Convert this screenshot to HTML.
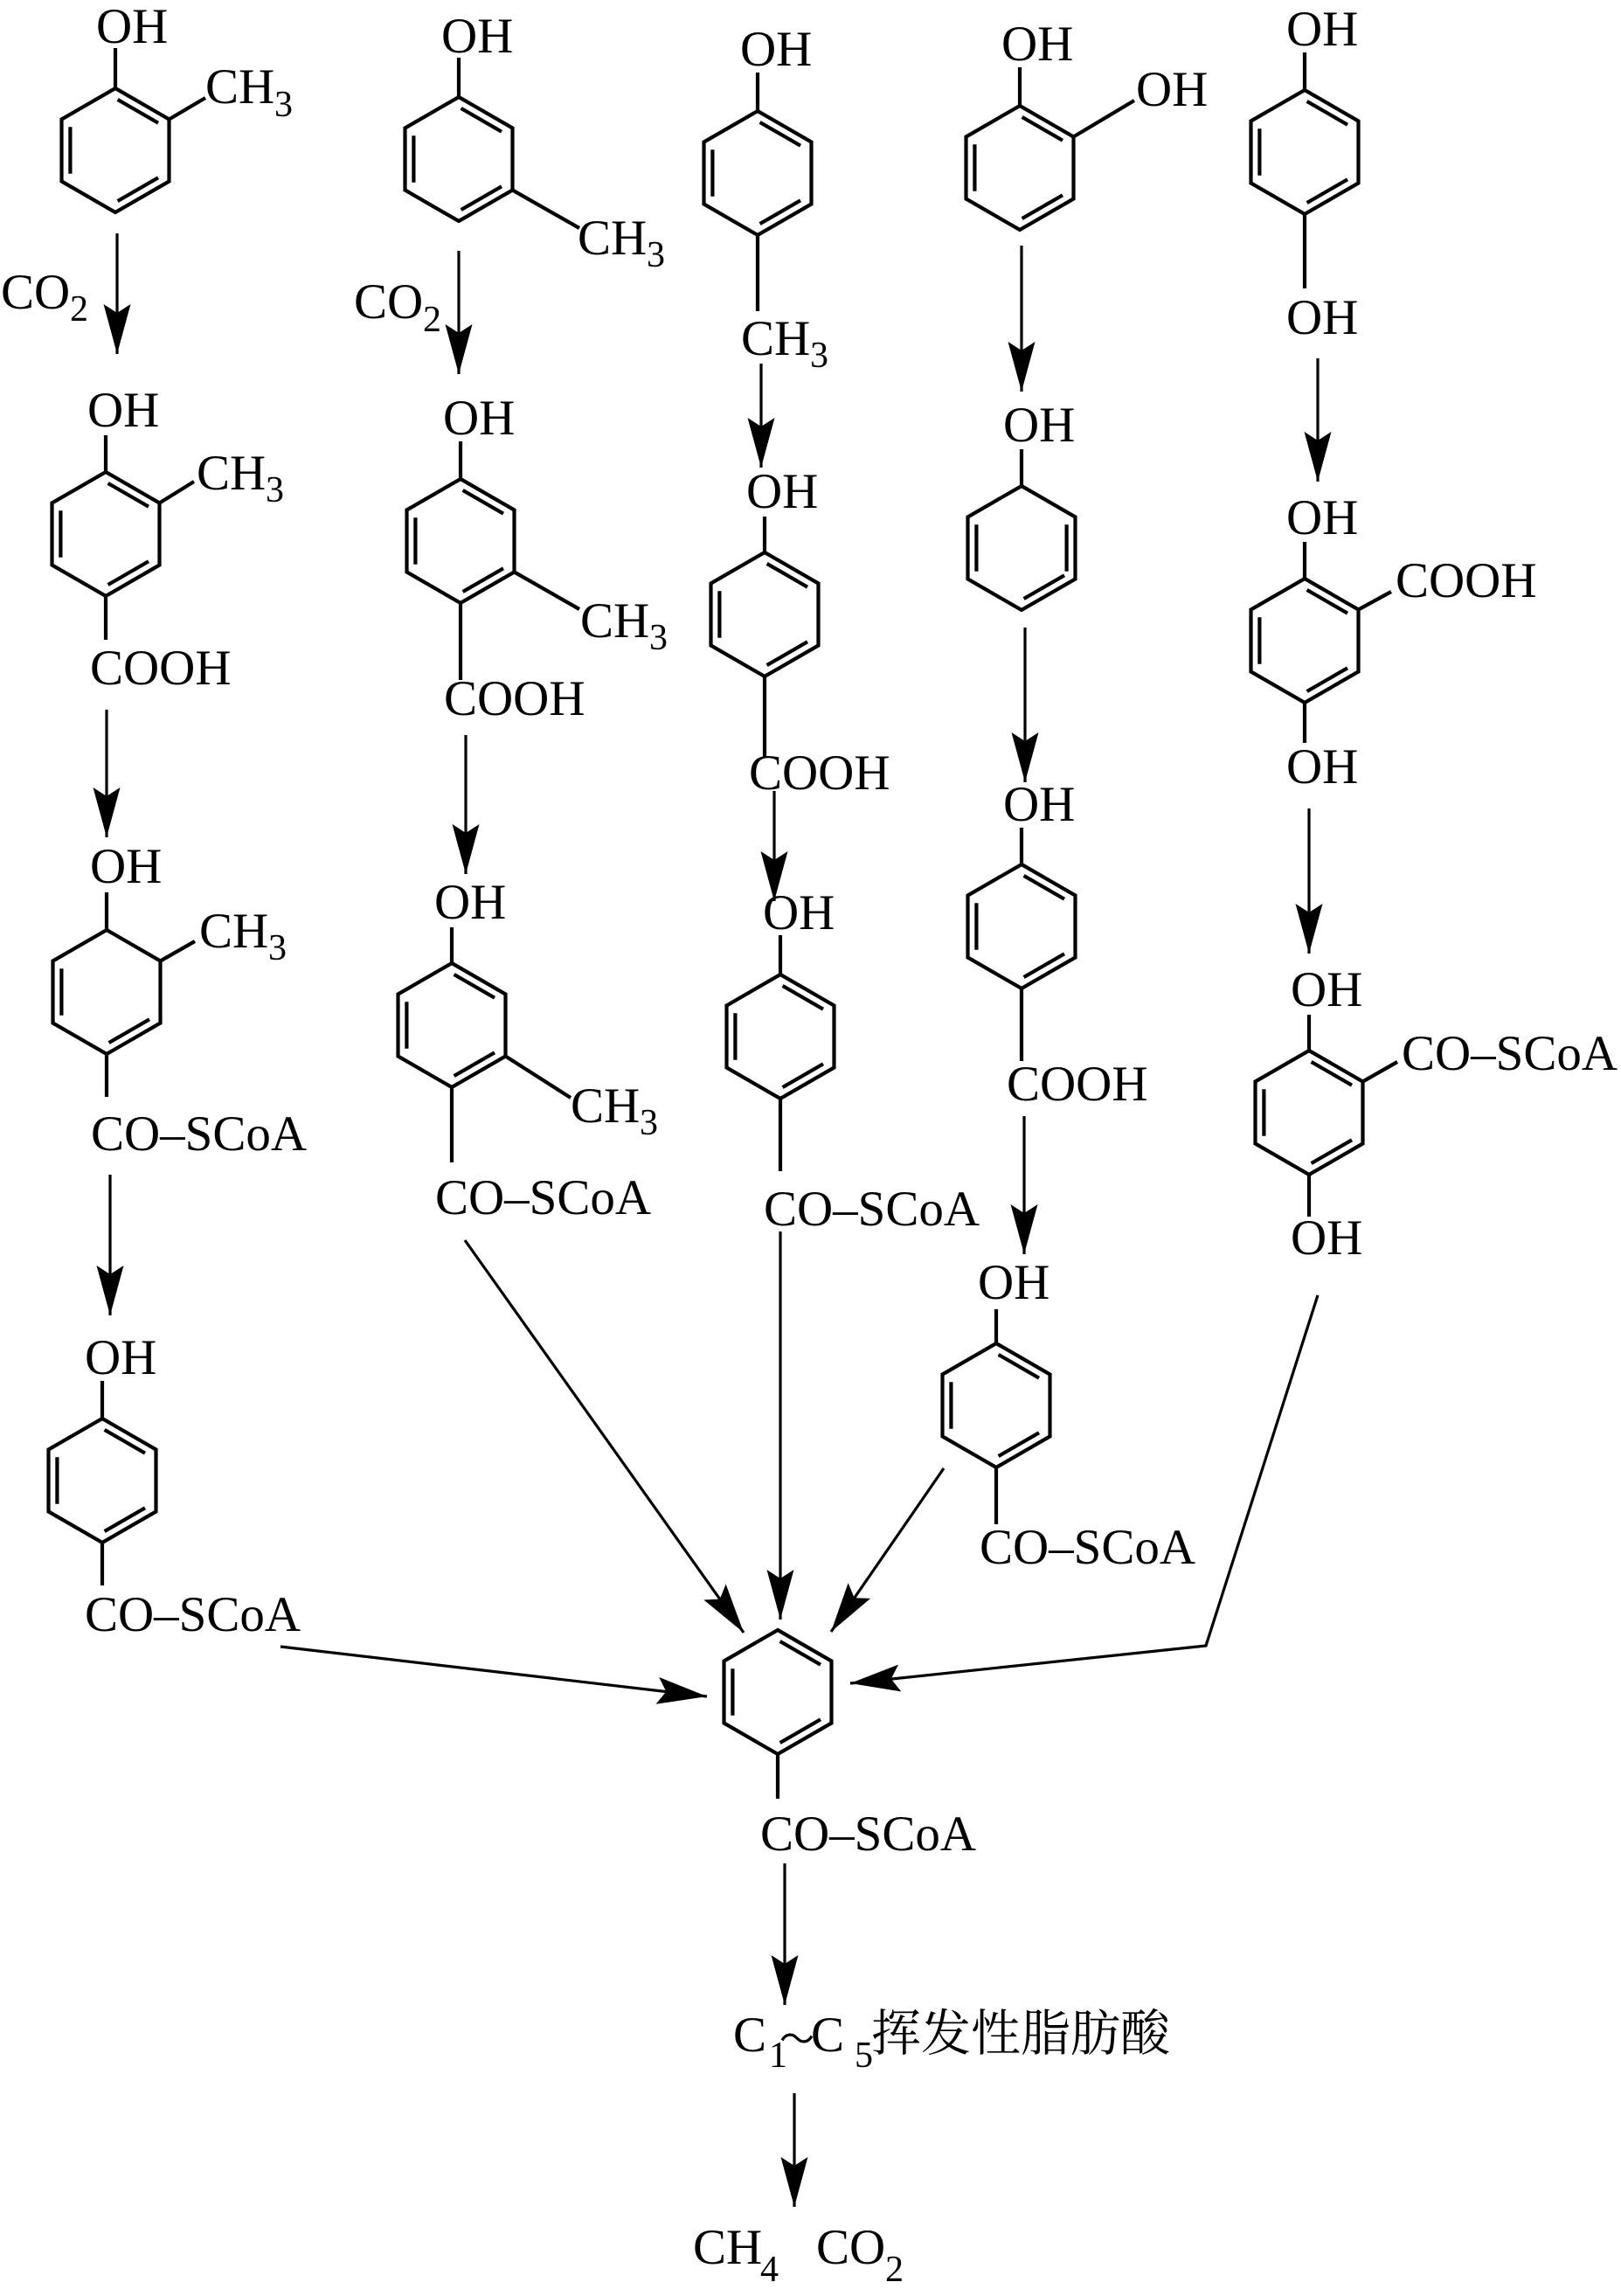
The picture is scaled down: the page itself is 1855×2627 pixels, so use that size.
<!DOCTYPE html>
<html>
<head>
<meta charset="utf-8">
<style>
  html, body { margin:0; padding:0; background:#fff; }
  svg { display:block; }
  text { font-family: "Liberation Serif", "Noto Serif CJK SC", serif; fill:#000; }
  .t { font-size:57px; }
  .s { font-size:42px; }
  .cj { font-family: "Liberation Serif", "Noto Serif CJK SC", serif; font-size:57px; }
  .tl { font-family: "Noto Sans CJK SC", sans-serif; font-size:40px; }
</style>
</head>
<body>
<svg width="1855" height="2627" viewBox="0 0 1855 2627" xmlns="http://www.w3.org/2000/svg">
  <defs>
    <marker id="ah" markerUnits="userSpaceOnUse" markerWidth="80" markerHeight="40" refX="0" refY="0" orient="auto" viewBox="-60 -20 80 40" overflow="visible">
      <path d="M0,0 L-57,-15.5 L-47,0 L-57,15.5 Z" fill="#000"/>
    </marker>
    <g id="hex">
      <path d="M0,-71 L61.49,-35.5 L61.49,35.5 L0,71 L-61.49,35.5 L-61.49,-35.5 Z" fill="none" stroke="#000" stroke-width="4.2" stroke-linejoin="miter"/>
    </g>
    <g id="rA" fill="none" stroke="#000" stroke-width="4.2">
      <use href="#hex"/>
      <path d="M2.6,-58.1 L49,-31.3 M49,31.3 L2.6,58.1 M-51.6,26.8 L-51.6,-26.8"/>
    </g>
    <g id="rB" fill="none" stroke="#000" stroke-width="4.2">
      <use href="#hex"/>
      <path d="M49,31.3 L2.6,58.1 M-51.6,26.8 L-51.6,-26.8"/>
    </g>
    <g id="rC" fill="none" stroke="#000" stroke-width="4.2">
      <use href="#hex"/>
      <path d="M51.6,-26.8 L51.6,26.8 M49,31.3 L2.6,58.1 M-51.6,26.8 L-51.6,-26.8"/>
    </g>
  </defs>

  <!-- ================= RINGS ================= -->
  <use href="#rA" x="132" y="172"/>
  <use href="#rA" x="121" y="611"/>
  <use href="#rB" x="122" y="1135"/>
  <use href="#rA" x="117" y="1694"/>

  <use href="#rA" x="525" y="182"/>
  <use href="#rA" x="527" y="619"/>
  <use href="#rA" x="517" y="1173"/>

  <use href="#rA" x="867" y="198"/>
  <use href="#rA" x="875" y="703"/>
  <use href="#rA" x="893" y="1186"/>

  <use href="#rA" x="1167" y="192"/>
  <use href="#rC" x="1169" y="627"/>
  <use href="#rA" x="1169" y="1060"/>
  <use href="#rA" x="1140" y="1608"/>

  <use href="#rA" x="1493" y="174"/>
  <use href="#rA" x="1493" y="733"/>
  <use href="#rA" x="1498" y="1273"/>

  <use href="#rA" x="890" y="1936"/>

  <!-- ================= BONDS ================= -->
  <g stroke="#000" stroke-width="4.2" fill="none">
    <!-- col1 -->
    <path d="M132,55 L132,101"/>
    <path d="M193.5,136.5 L235,112"/>
    <path d="M121,498 L121,540"/>
    <path d="M182.5,575.5 L222,551"/>
    <path d="M121,682 L121,732"/>
    <path d="M122,1021 L122,1064"/>
    <path d="M183.5,1099.5 L223,1077"/>
    <path d="M122,1206 L122,1255"/>
    <path d="M117,1580 L117,1623"/>
    <path d="M117,1765 L117,1814"/>
    <!-- col2 -->
    <path d="M525,66 L525,111"/>
    <path d="M586.5,217.5 L663,261"/>
    <path d="M527,505 L527,548"/>
    <path d="M588.5,654.5 L663,697"/>
    <path d="M527,690 L527,778"/>
    <path d="M517,1061 L517,1102"/>
    <path d="M578.5,1208.5 L653,1256"/>
    <path d="M517,1244 L517,1330"/>
    <!-- col3 -->
    <path d="M867,83 L867,127"/>
    <path d="M867,269 L867,356"/>
    <path d="M875,591 L875,632"/>
    <path d="M875,774 L875,867"/>
    <path d="M893,1070 L893,1115"/>
    <path d="M893,1257 L893,1340"/>
    <!-- col4 -->
    <path d="M1167,77 L1167,121"/>
    <path d="M1228.5,156.5 L1298,115"/>
    <path d="M1169,514 L1169,556"/>
    <path d="M1169,947 L1169,989"/>
    <path d="M1169,1131 L1169,1214"/>
    <path d="M1140,1498 L1140,1537"/>
    <path d="M1140,1679 L1140,1744"/>
    <!-- col5 -->
    <path d="M1493,60 L1493,103"/>
    <path d="M1493,245 L1493,330"/>
    <path d="M1493,620 L1493,662"/>
    <path d="M1554.5,697.5 L1592,677"/>
    <path d="M1493,804 L1493,850"/>
    <path d="M1498,1161 L1498,1202"/>
    <path d="M1559.5,1237.5 L1599,1215"/>
    <path d="M1498,1344 L1498,1392"/>
    <!-- center -->
    <path d="M890,2007 L890,2058"/>
  </g>

  <!-- ================= ARROWS ================= -->
  <g stroke="#000" stroke-width="3.2" fill="none" marker-end="url(#ah)">
    <!-- col1 -->
    <path d="M134,267 L134,405"/>
    <path d="M122,812 L122,958"/>
    <path d="M126,1344 L126,1505"/>
    <path d="M321,1884 L809,1941"/>
    <!-- col2 -->
    <path d="M525,287 L525,428"/>
    <path d="M533,841 L533,1000"/>
    <path d="M532,1419 L851,1868"/>
    <!-- col3 -->
    <path d="M871,416 L871,535"/>
    <path d="M886,905 L886,1031"/>
    <path d="M893,1409 L893,1853"/>
    <!-- col4 -->
    <path d="M1169,281 L1169,448"/>
    <path d="M1173,718 L1173,895"/>
    <path d="M1172,1277 L1172,1435"/>
    <path d="M1080,1680 L951,1867"/>
    <!-- col5 -->
    <path d="M1508,410 L1508,551"/>
    <path d="M1498,925 L1498,1091"/>
    <path d="M1508,1482 L1380,1883 L973,1926"/>
    <!-- bottom -->
    <path d="M898,2132 L898,2294"/>
    <path d="M909,2395 L909,2525"/>
  </g>

  <!-- ================= TEXT ================= -->
  <!-- col1 -->
  <text class="t" x="110" y="49">OH</text>
  <text class="t" x="235" y="118">CH</text><text class="s" x="314" y="133">3</text>
  <text class="t" x="1" y="353">CO</text><text class="s" x="80" y="367">2</text>
  <text class="t" x="100" y="488">OH</text>
  <text class="t" x="225" y="560">CH</text><text class="s" x="304" y="574">3</text>
  <text class="t" x="103" y="783">COOH</text>
  <text class="t" x="103" y="1010">OH</text>
  <text class="t" x="228" y="1084">CH</text><text class="s" x="307" y="1098">3</text>
  <text class="t" x="104" y="1316">CO–SCoA</text>
  <text class="t" x="97" y="1572">OH</text>
  <text class="t" x="97" y="1866">CO–SCoA</text>

  <!-- col2 -->
  <text class="t" x="505" y="60">OH</text>
  <text class="t" x="661" y="291">CH</text><text class="s" x="740" y="305">3</text>
  <text class="t" x="405" y="364">CO</text><text class="s" x="484" y="379">2</text>
  <text class="t" x="507" y="497">OH</text>
  <text class="t" x="664" y="729">CH</text><text class="s" x="743" y="743">3</text>
  <text class="t" x="508" y="818">COOH</text>
  <text class="t" x="497" y="1051">OH</text>
  <text class="t" x="653" y="1284">CH</text><text class="s" x="732" y="1298">3</text>
  <text class="t" x="498" y="1389">CO–SCoA</text>

  <!-- col3 -->
  <text class="t" x="847" y="75">OH</text>
  <text class="t" x="848" y="406">CH</text><text class="s" x="927" y="420">3</text>
  <text class="t" x="854" y="581">OH</text>
  <text class="t" x="857" y="903">COOH</text>
  <text class="t" x="873" y="1063">OH</text>
  <text class="t" x="874" y="1402">CO–SCoA</text>

  <!-- col4 -->
  <text class="t" x="1146" y="69">OH</text>
  <text class="t" x="1300" y="121">OH</text>
  <text class="t" x="1148" y="505">OH</text>
  <text class="t" x="1148" y="939">OH</text>
  <text class="t" x="1152" y="1259">COOH</text>
  <text class="t" x="1119" y="1486">OH</text>
  <text class="t" x="1121" y="1789">CO–SCoA</text>

  <!-- col5 -->
  <text class="t" x="1472" y="52">OH</text>
  <text class="t" x="1472" y="382">OH</text>
  <text class="t" x="1472" y="611">OH</text>
  <text class="t" x="1597" y="683">COOH</text>
  <text class="t" x="1472" y="896">OH</text>
  <text class="t" x="1477" y="1151">OH</text>
  <text class="t" x="1604" y="1224">CO–SCoA</text>
  <text class="t" x="1477" y="1435">OH</text>

  <!-- center / bottom -->
  <text class="t" x="870" y="2117">CO–SCoA</text>
  <text class="t" x="839" y="2347">C</text><text class="s" x="880" y="2365">1</text>
  <text class="tl" x="892" y="2347">～</text>
  <text class="t" x="928" y="2347">C</text><text class="s" x="978" y="2365">5</text>
  <text class="cj" x="997" y="2346">挥发性脂肪酸</text>
  <text class="t" x="793" y="2590">CH</text><text class="s" x="870" y="2610">4</text>
  <text class="t" x="934" y="2590">CO</text><text class="s" x="1013" y="2610">2</text>
</svg>
</body>
</html>
